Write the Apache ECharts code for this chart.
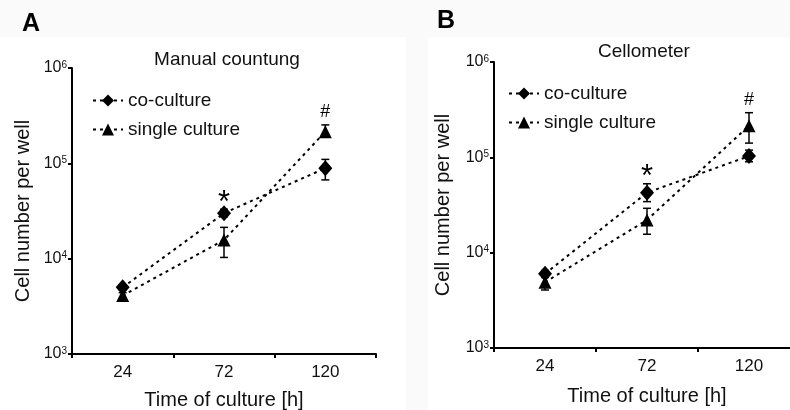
<!DOCTYPE html>
<html>
<head>
<meta charset="utf-8">
<script src="https://cdn.jsdelivr.net/npm/echarts@6/dist/echarts.min.js"></script>
<style>html,body{margin:0;padding:0;background:#fafafa;}#c{width:790px;height:410px;}</style>
</head>
<body>
<div id="c"></div>
<script>
// ---- data ----
const categories = ['24', '72', '120'];
const yExponents = [3, 4, 5, 6];
const seriesNames = ['co-culture', 'single culture'];

// Panel A: Manual countung
const manualCo = [5000, 30000, 89000];
const manualCoErr = [[4700, 5300], [27500, 33000], [67000, 110000]];
const manualSingle = [4100, 15700, 215000];
const manualSingleErr = [[3800, 4400], [10300, 21300], [190000, 253000]];
const manualCoMarks = ['', '*', ''];
const manualSingleMarks = ['', '', '#'];

// Panel B: Cellometer
const cellCo = [6000, 42600, 103000];
const cellCoErr = [[5500, 6500], [34300, 52800], [89800, 119000]];
const cellSingle = [4900, 22000, 214000];
const cellSingleErr = [[4060, 5800], [15600, 29200], [141000, 294000]];
const cellCoMarks = ['', '*', ''];
const cellSingleMarks = ['', '', '#'];

// ---- chart ----
const FONT = 'Liberation Sans, Arial, sans-serif';
const chart = echarts.init(document.getElementById('c'));

function errSeries(name, errs, marks, gi) {
  return {
    type: 'custom', name: name + ' err', xAxisIndex: gi, yAxisIndex: gi, z: 3,
    data: errs.map((e, i) => [i, e[0], e[1]]),
    renderItem: function (params, api) {
      const i = api.value(0);
      const lo = api.coord([i, api.value(1)]);
      const hi = api.coord([i, api.value(2)]);
      const x = lo[0], w = 4;
      const st = { stroke: '#000', lineWidth: 1.5 };
      const ch = [
        { type: 'line', shape: { x1: x, y1: lo[1], x2: x, y2: hi[1] }, style: st },
        { type: 'line', shape: { x1: x - w, y1: lo[1], x2: x + w, y2: lo[1] }, style: st },
        { type: 'line', shape: { x1: x - w, y1: hi[1], x2: x + w, y2: hi[1] }, style: st }
      ];
      const m = marks[params.dataIndex];
      if (m === '*') {
        ch.push({ type: 'text', x: x, y: hi[1] - 6, style: { text: '*', fill: '#000', font: '31px ' + FONT, align: 'center', verticalAlign: 'middle' } });
      } else if (m === '#') {
        ch.push({ type: 'text', x: x, y: hi[1] - 13, style: { text: '#', fill: '#000', font: '18px ' + FONT, align: 'center', verticalAlign: 'middle' } });
      }
      return { type: 'group', children: ch };
    }
  };
}

function lineSeries(name, vals, gi, sym, size) {
  return {
    type: 'line', name: name, xAxisIndex: gi, yAxisIndex: gi, data: vals, z: 4,
    symbol: sym, symbolSize: size,
    itemStyle: { color: '#000' },
    lineStyle: { color: '#000', width: 2, type: [3, 4] }
  };
}

function xAxis(gi, gap) {
  return {
    type: 'category', gridIndex: gi, data: categories, boundaryGap: true,
    axisLine: { lineStyle: { color: '#000', width: 2 } },
    axisTick: { show: true, length: 4, lineStyle: { color: '#000', width: 2 } },
    axisLabel: { color: '#111', fontSize: 17, margin: 10, fontFamily: FONT },
    name: 'Time of culture [h]', nameLocation: 'middle', nameGap: gap,
    nameTextStyle: { color: '#111', fontSize: 20, fontFamily: FONT }
  };
}

function yAxis(gi, gap) {
  return {
    type: 'log', logBase: 10, gridIndex: gi,
    min: Math.pow(10, yExponents[0]), max: Math.pow(10, yExponents[yExponents.length - 1]),
    splitNumber: 3, splitLine: { show: false },
    axisLine: { show: true, lineStyle: { color: '#000', width: 2 } },
    axisTick: { show: true, length: 4, lineStyle: { color: '#000', width: 2 } },
    axisLabel: {
      margin: 5, fontFamily: FONT,
      formatter: v => '{b|10}{s|' + Math.round(Math.log10(v)) + '}',
      rich: { b: { fontSize: 16, color: '#111', fontFamily: FONT }, s: { fontSize: 10, color: '#111', verticalAlign: 'top', fontFamily: FONT } }
    },
    name: 'Cell number per well', nameLocation: 'middle', nameGap: gap,
    nameTextStyle: { color: '#111', fontSize: 20, fontFamily: FONT }
  };
}

const legendBase = {
  data: seriesNames, orient: 'vertical', itemWidth: 30, itemHeight: 15, itemGap: 10, padding: 0,
  textStyle: { color: '#111', fontSize: 19, fontFamily: FONT }
};

chart.setOption({
  backgroundColor: '#fafafa',
  animation: false,
  graphic: [
    { type: 'rect', shape: { x: 0, y: 37, width: 406, height: 373 }, style: { fill: '#fff' }, z: -10, silent: true },
    { type: 'rect', shape: { x: 428, y: 37, width: 362, height: 373 }, style: { fill: '#fff' }, z: -10, silent: true }
  ],
  title: [
    { text: 'A', left: 17, top: 7, textStyle: { fontSize: 25, fontWeight: 'bold', color: '#000', fontFamily: FONT } },
    { text: 'B', left: 432, top: 4, textStyle: { fontSize: 25, fontWeight: 'bold', color: '#000', fontFamily: FONT } },
    { text: 'Manual countung', left: 222, textAlign: 'center', top: 45, textStyle: { fontSize: 19, fontWeight: 'normal', color: '#111', fontFamily: FONT } },
    { text: 'Cellometer', left: 639, textAlign: 'center', top: 37, textStyle: { fontSize: 19, fontWeight: 'normal', color: '#111', fontFamily: FONT } }
  ],
  legend: [
    Object.assign({}, legendBase, { left: 92, top: 91 }),
    Object.assign({}, legendBase, { left: 508, top: 84 })
  ],
  grid: [
    { left: 72, top: 68, right: 414, bottom: 56, outerBoundsMode: 'none', containLabel: false },
    { left: 494, top: 62, right: -10, bottom: 62, outerBoundsMode: 'none', containLabel: false }
  ],
  xAxis: [xAxis(0, 36), xAxis(1, 38)],
  yAxis: [yAxis(0, 39), yAxis(1, 41)],
  series: [
    errSeries('co-culture', manualCoErr, manualCoMarks, 0),
    errSeries('single culture', manualSingleErr, manualSingleMarks, 0),
    lineSeries('co-culture', manualCo, 0, 'diamond', [14, 16]),
    lineSeries('single culture', manualSingle, 0, 'triangle', [13, 13]),
    errSeries('co-culture', cellCoErr, cellCoMarks, 1),
    errSeries('single culture', cellSingleErr, cellSingleMarks, 1),
    lineSeries('co-culture', cellCo, 1, 'diamond', [14, 16]),
    lineSeries('single culture', cellSingle, 1, 'triangle', [13, 13])
  ]
});
</script>
</body>
</html>
